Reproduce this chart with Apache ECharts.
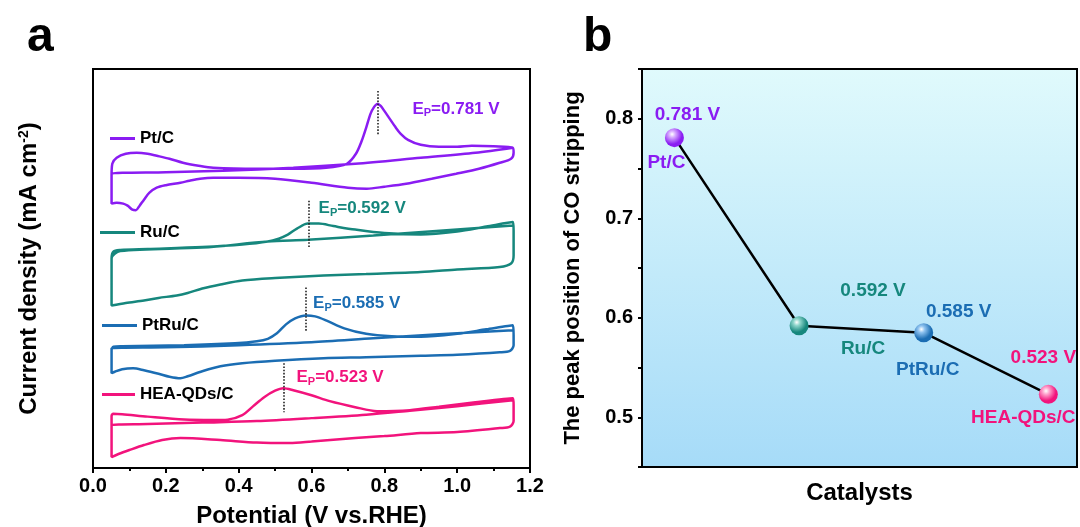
<!DOCTYPE html>
<html><head><meta charset="utf-8">
<script src="https://cdn.jsdelivr.net/npm/echarts@6/dist/echarts.min.js"></script>
<style>html,body{margin:0;padding:0;background:#fff}#c{width:1080px;height:527px}</style>
</head><body><div id="c"></div>
<script>
// ---------- data ----------
const catalysts = ['Pt/C', 'Ru/C', 'PtRu/C', 'HEA-QDs/C'];
const peakPotentials = [0.781, 0.592, 0.585, 0.523];
const colors = ['#8a1cf2', '#16877d', '#1b6db3', '#f2137c'];
const lightColors = ['#d6a8ff', '#8fd6cc', '#8fc3f0', '#ffa6cf'];
const xTickLabels = ['0.0', '0.2', '0.4', '0.6', '0.8', '1.0', '1.2'];
const yTickLabelsB = ['0.5', '0.6', '0.7', '0.8'];

// CV curves [potential V, current (arb. units, stacked offset)]
const ptCurve = [
  [0.051,265],[0.051,293],[0.053,305],[0.065,311],[0.09,315],[0.12,316],[0.15,315],[0.175,313],
  [0.21,310],[0.247,306],[0.29,303],[0.33,301],[0.45,300],[0.55,300],[0.64,301],[0.697,305],
  [0.722,315],[0.738,328],[0.75,341],[0.762,355],[0.772,362],[0.781,365],[0.79,363],[0.80,358],
  [0.815,350],[0.83,342],[0.845,335],[0.865,329],[0.90,324],[0.95,322],[1.0,322],[1.04,323],
  [1.10,322.5],[1.153,321],
  [1.155,316],[1.148,310],[1.117,306],[1.06,300],[0.997,295],[0.93,290],[0.86,285],[0.80,282],
  [0.752,280],[0.70,281],[0.60,286],[0.50,290],[0.40,291],[0.33,291],[0.294,290],[0.265,288],
  [0.24,286],[0.20,283.5],[0.175,281],[0.155,276],[0.14,269],[0.128,263],[0.118,258.5],[0.108,259],
  [0.095,263],[0.083,265],[0.065,266],[0.051,265],
  [0.051,295],[0.20,296.5],[0.357,298],[0.55,301],[0.72,305],[0.90,311],[1.05,316],[1.153,321]
];
const ruCurve = [
  [0.051,163],[0.051,210],[0.056,217],[0.075,218.5],[0.15,219.5],[0.30,221.5],[0.41,224],[0.48,227],
  [0.51,230],[0.535,234],[0.56,240],[0.59,245],[0.62,245],[0.66,242.5],[0.72,239],[0.80,235.5],
  [0.90,234],[1.0,237],[1.08,242],[1.153,246.5],
  [1.155,238],[1.155,213],[1.148,205],[1.117,201.5],[1.0,199],[0.90,196.5],[0.75,194.5],[0.633,193],
  [0.50,190.5],[0.41,188],[0.35,184],[0.30,180],[0.26,175.5],[0.23,173],[0.18,170.5],[0.14,168],
  [0.09,165.5],[0.051,163],
  [0.051,210],[0.075,217.5],[0.30,221],[0.48,227],[0.59,228.7],[0.77,233],[1.0,239],[1.153,243]
];
const ptruCurve = [
  [0.051,95],[0.051,118],[0.056,121.5],[0.08,122],[0.25,123],[0.39,125],[0.45,127],[0.48,129.5],
  [0.505,135],[0.53,144],[0.555,150],[0.585,153],[0.61,152],[0.64,148],[0.69,140],[0.75,134.5],
  [0.82,132],[0.90,131.5],[1.0,134.5],[1.08,139],[1.153,143],
  [1.155,133],[1.155,123],[1.145,117.5],[1.117,116],[1.0,113.5],[0.90,112.5],[0.75,111],[0.633,110],
  [0.50,107.5],[0.41,105],[0.35,102],[0.30,97],[0.26,92],[0.24,90],[0.21,91.5],[0.18,94.5],
  [0.14,98],[0.11,100],[0.08,99],[0.06,96.5],[0.051,95],
  [0.051,120],[0.20,121],[0.40,123],[0.60,126],[0.77,130],[0.95,134],[1.153,138]
];
const heaCurve = [
  [0.051,11],[0.051,52],[0.055,54.5],[0.08,54],[0.15,51.5],[0.25,48.5],[0.33,48],[0.37,48.5],
  [0.41,53],[0.44,62],[0.47,71],[0.50,77.5],[0.523,80],[0.55,78],[0.60,73],[0.65,67],
  [0.72,61],[0.78,57],[0.87,58],[0.95,61.5],[1.05,66],[1.153,70],
  [1.155,63],[1.155,47],[1.145,41.5],[1.117,40],[1.0,36],[0.90,35],[0.80,32],[0.72,30],
  [0.60,26.5],[0.54,25],[0.45,25.5],[0.35,28],[0.24,30],[0.19,28],[0.14,23],[0.10,18],
  [0.07,14],[0.051,11],
  [0.051,43],[0.15,44],[0.30,45.5],[0.45,47],[0.60,50],[0.75,53.5],[0.87,57.5],[1.0,62],[1.153,68]
];
const curves = [ptCurve, ruCurve, ptruCurve, heaCurve];
// dotted peak markers (current-axis ends)
const peakLineTop = [378, 268, 181, 105];
const peakLineBottom = [333, 220, 136, 56];

// ---------- styles ----------
const FONT = "'Liberation Sans', Arial, sans-serif";
const epOffsets = [[35, 18], [10, 8], [7, 16], [13, 14]];
const legendPos = [[110, 130, 25], [100, 224, 35], [102, 317, 35], [102, 386, 33]];
const valueLabelOffsets = [[13, -23], [74, -35], [35, -21], [-5, -37]];
const nameLabelOffsets = [[-8, 25], [64, 23], [4, 37], [-25, 23]];

function sphere(i) {
  return { type: 'radial', x: 0.38, y: 0.32, r: 0.7,
    colorStops: [{ offset: 0, color: '#ffffff' }, { offset: 0.25, color: lightColors[i] }, { offset: 0.75, color: colors[i] }, { offset: 1, color: colors[i] }] };
}

const chart = echarts.init(document.getElementById('c'), null, { renderer: 'canvas' });

const axisBlack = { color: '#000', width: 2 };
const cvSeries = catalysts.map((name, i) => ({
  name: name, type: 'line', xAxisIndex: 0, yAxisIndex: 0,
  data: curves[i], showSymbol: false, symbol: 'none', smooth: 0.3,
  lineStyle: { color: colors[i], width: 2.5 }, itemStyle: { color: colors[i] },
  silent: true, animation: false,
  markLine: {
    silent: true, symbol: 'none', animation: false,
    lineStyle: { type: 'dotted', color: '#222', width: 1.6 },
    label: { show: false },
    data: [[{ coord: [peakPotentials[i], peakLineTop[i]] }, { coord: [peakPotentials[i], peakLineBottom[i]] }]]
  },
  markPoint: {
    silent: true, animation: false,
    data: [{
      coord: [peakPotentials[i], peakLineTop[i]], symbol: 'circle', symbolSize: 0,
      itemStyle: { color: 'transparent' },
      label: {
        show: true, position: 'right', distance: 0, offset: epOffsets[i],
        formatter: '{e|E}{p|P}{e|=' + peakPotentials[i].toFixed(3) + ' V}',
        rich: {
          e: { fontSize: 17, fontWeight: 'bold', color: colors[i], fontFamily: FONT },
          p: { fontSize: 11, fontWeight: 'bold', color: colors[i], fontFamily: FONT, padding: [9, 0, 0, 0] }
        }
      }
    }]
  }
}));

const option = {
  animation: false,
  textStyle: { fontFamily: FONT },
  title: [
    { text: 'a', left: 22, top: 9, textStyle: { fontSize: 48, fontWeight: 'bold', color: '#000', fontFamily: FONT } },
    { text: 'b', left: 578, top: 9, textStyle: { fontSize: 48, fontWeight: 'bold', color: '#000', fontFamily: FONT } }
  ],
  legend: catalysts.map((name, i) => ({
    data: [name], left: legendPos[i][0], top: legendPos[i][1], padding: 0,
    itemWidth: legendPos[i][2], itemHeight: 3, icon: 'rect', selectedMode: false,
    textStyle: { fontSize: 17, fontWeight: 'bold', color: '#000', fontFamily: FONT }
  })),
  grid: [
    { left: 93, right: 550, top: 69, bottom: 59, outerBoundsMode: 'none', containLabel: false,
      show: true, borderColor: '#000', borderWidth: 2, backgroundColor: 'transparent' },
    { left: 642, right: 3, top: 69, bottom: 60, outerBoundsMode: 'none', containLabel: false,
      show: true, borderColor: '#000', borderWidth: 2,
      backgroundColor: { type: 'linear', x: 0, y: 0, x2: 0, y2: 1, colorStops: [{ offset: 0, color: '#e0fafc' }, { offset: 1, color: '#a6dbf8' }] } }
  ],
  xAxis: [
    { gridIndex: 0, type: 'value', min: 0, max: 1.2, interval: 0.2,
      axisLine: { show: true, lineStyle: axisBlack },
      axisTick: { show: true, inside: false, length: 5, lineStyle: axisBlack },
      minorTick: { show: true, splitNumber: 2, length: 3, lineStyle: axisBlack },
      splitLine: { show: false }, minorSplitLine: { show: false },
      axisLabel: { fontSize: 20, fontWeight: 'bold', color: '#000', margin: 8, fontFamily: FONT,
        formatter: v => xTickLabels[Math.round(v / 0.2)] },
      name: 'Potential (V vs.RHE)', nameLocation: 'middle', nameGap: 36,
      nameTextStyle: { fontSize: 24, fontWeight: 'bold', color: '#000', fontFamily: FONT } },
    { gridIndex: 1, type: 'value', min: 0.74, max: 4.23,
      axisLine: { show: true, lineStyle: axisBlack }, axisTick: { show: false },
      axisLabel: { show: false }, splitLine: { show: false },
      name: 'Catalysts', nameLocation: 'middle', nameGap: 14,
      nameTextStyle: { fontSize: 24, fontWeight: 'bold', color: '#000', fontFamily: FONT } }
  ],
  yAxis: [
    { gridIndex: 0, type: 'value', min: 0, max: 400,
      axisLine: { show: true, lineStyle: axisBlack }, axisTick: { show: false },
      axisLabel: { show: false }, splitLine: { show: false },
      name: '{t|Current density (mA cm}{s|-2}{t|)}', nameLocation: 'middle', nameGap: 52,
      nameTextStyle: { rich: {
        t: { fontSize: 24, fontWeight: 'bold', color: '#000', fontFamily: FONT },
        s: { fontSize: 14, fontWeight: 'bold', color: '#000', fontFamily: FONT, verticalAlign: 'top', padding: [0, 0, 10, 0] } } } },
    { gridIndex: 1, type: 'value', min: 0.45, max: 0.85, interval: 0.05,
      axisLine: { show: true, lineStyle: axisBlack },
      axisTick: { show: true, inside: false, length: 4, lineStyle: axisBlack },
      axisLabel: { fontSize: 20, fontWeight: 'bold', color: '#000', margin: 9, fontFamily: FONT,
        formatter: v => { const k = yTickLabelsB.indexOf(v.toFixed(2).slice(0, 3)); return (Math.abs(v * 10 - Math.round(v * 10)) < 1e-6 && k >= 0) ? yTickLabelsB[k] : ''; } },
      splitLine: { show: false },
      name: 'The peak position of CO stripping', nameLocation: 'middle', nameGap: 58,
      nameTextStyle: { fontSize: 22, fontWeight: 'bold', color: '#000', fontFamily: FONT } }
  ],
  series: cvSeries.concat([
    { name: 'peak', type: 'line', xAxisIndex: 1, yAxisIndex: 1, symbol: 'circle', symbolSize: 19,
      lineStyle: { color: '#000', width: 2.5 }, z: 3,
      data: peakPotentials.map((v, i) => ({
        value: [i + 1, v], itemStyle: { color: sphere(i) },
        label: { show: true, position: 'inside', offset: valueLabelOffsets[i], color: colors[i],
          fontSize: 19, fontWeight: 'bold', fontFamily: FONT, formatter: v.toFixed(3) + ' V' }
      })) },
    { name: 'names', type: 'scatter', xAxisIndex: 1, yAxisIndex: 1, symbolSize: 1, z: 4,
      itemStyle: { color: 'rgba(0,0,0,0)', opacity: 1 },
      data: peakPotentials.map((v, i) => ({
        value: [i + 1, v],
        label: { show: true, position: 'inside', offset: nameLabelOffsets[i], color: colors[i], opacity: 1,
          fontSize: 19, fontWeight: 'bold', fontFamily: FONT, formatter: catalysts[i] }
      })) }
  ])
};
chart.setOption(option);
</script>
</body></html>
